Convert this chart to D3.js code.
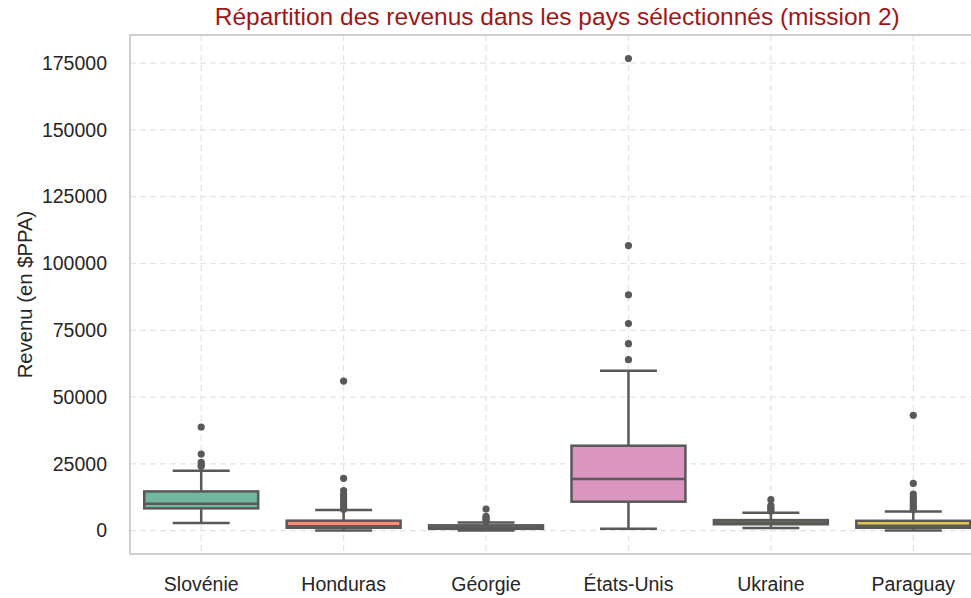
<!DOCTYPE html>
<html>
<head>
<meta charset="utf-8">
<script src="https://cdn.jsdelivr.net/npm/d3@7"></script>
<style>
  html, body { margin: 0; padding: 0; background: #fff; }
  svg { display: block; font-family: "Liberation Sans", Arial, sans-serif; }
</style>
</head>
<body>
<svg id="chart" width="971" height="598"></svg>
<script>
// ---- data (values in $PPA) ----
const countries = ["Slovénie", "Honduras", "Géorgie", "États-Unis", "Ukraine", "Paraguay"];
const lowerWhisker = [2880, 100, 100, 750, 1000, 100];
const q1 = [8350, 1100, 700, 10850, 2400, 1100];
const median = [10100, 1700, 1200, 19350, 3100, 1850];
const q3 = [14700, 3750, 2000, 31800, 3950, 3700];
const upperWhisker = [22460, 7750, 3100, 59900, 6740, 7200];
const outliers = [
  [38800, 28700, 25600, 24700, 24100],
  [56000, 19600, 15000, 13500, 12500, 11500, 10500, 9500, 8600, 8000],
  [8100, 5400, 4700, 4100, 3500],
  [176700, 106700, 88300, 77500, 70000, 64000],
  [11600, 9400, 8700, 8000, 7300],
  [43200, 17700, 13700, 12500, 11500, 10500, 9500, 8600, 7800]
];
const boxColors = ["#71b7a1", "#e99575", "#95a3c3", "#db96c0", "#a2c864", "#e5c849"];
const yTicks = [0, 25000, 50000, 75000, 100000, 125000, 150000, 175000];
const titleText = "Répartition des revenus dans les pays sélectionnés (mission 2)";
const yLabelText = "Revenu (en $PPA)";

// ---- layout ----
const svg = d3.select("#chart");
const plot = { left: 130, right: 984.5, top: 35, bottom: 554 };
const lineGray = "#595959";
const textColor = "#262626";

const x = d3.scaleBand().domain(countries).range([plot.left, plot.right]).paddingInner(0).paddingOuter(0);
const allVals = lowerWhisker.concat(upperWhisker, outliers.flat());
const vMin = d3.min(allVals), vMax = d3.max(allVals);
const margin = (vMax - vMin) * 0.05;
const y = d3.scaleLinear().domain([vMin - margin, vMax + margin]).range([plot.bottom, plot.top]);

// grid
const grid = svg.append("g");
grid.selectAll("line.h").data(yTicks).join("line")
  .attr("x1", plot.left).attr("x2", plot.right)
  .attr("y1", d => y(d)).attr("y2", d => y(d))
  .attr("stroke", "#e3e3e3").attr("stroke-width", 1.2).attr("stroke-dasharray", "6,4");
grid.selectAll("line.v").data(countries).join("line")
  .attr("x1", d => x(d) + x.bandwidth() / 2).attr("x2", d => x(d) + x.bandwidth() / 2)
  .attr("y1", plot.top).attr("y2", plot.bottom)
  .attr("stroke", "#e3e3e3").attr("stroke-width", 1.2).attr("stroke-dasharray", "6,4");

// spines
svg.append("rect")
  .attr("x", plot.left).attr("y", plot.top)
  .attr("width", plot.right - plot.left).attr("height", plot.bottom - plot.top)
  .attr("fill", "none").attr("stroke", "#cfcfcf").attr("stroke-width", 2);

// y axis
const yAxis = d3.axisLeft(y).tickValues(yTicks).tickSize(0).tickPadding(23).tickFormat(d3.format("d"));
const ya = svg.append("g").attr("transform", `translate(${plot.left},0)`).call(yAxis);
ya.select(".domain").remove();
ya.selectAll("text").attr("fill", textColor).style("font-size", "19.5px")
  .style("font-family", "'Liberation Sans', Arial, sans-serif");

// x axis
const xAxis = d3.axisBottom(x).tickSize(0).tickPadding(23);
const xa = svg.append("g").attr("transform", `translate(0,${plot.bottom})`).call(xAxis);
xa.select(".domain").remove();
xa.selectAll("text").attr("fill", textColor).style("font-size", "19.5px")
  .style("font-family", "'Liberation Sans', Arial, sans-serif");

// boxes
const bw = x.bandwidth() * 0.8;
const sw = 2.5;
const boxes = svg.append("g");
countries.forEach((c, i) => {
  const cx = x(c) + x.bandwidth() / 2;
  const g = boxes.append("g");
  // whiskers
  g.append("line").attr("x1", cx).attr("x2", cx).attr("y1", y(q3[i])).attr("y2", y(upperWhisker[i]))
    .attr("stroke", lineGray).attr("stroke-width", sw);
  g.append("line").attr("x1", cx).attr("x2", cx).attr("y1", y(q1[i])).attr("y2", y(lowerWhisker[i]))
    .attr("stroke", lineGray).attr("stroke-width", sw);
  // caps
  [upperWhisker[i], lowerWhisker[i]].forEach(v => {
    g.append("line").attr("x1", cx - bw / 4).attr("x2", cx + bw / 4).attr("y1", y(v)).attr("y2", y(v))
      .attr("stroke", lineGray).attr("stroke-width", sw);
  });
  // box
  g.append("rect").attr("x", cx - bw / 2).attr("width", bw)
    .attr("y", y(q3[i])).attr("height", y(q1[i]) - y(q3[i]))
    .attr("fill", boxColors[i]).attr("stroke", lineGray).attr("stroke-width", sw);
  // median
  g.append("line").attr("x1", cx - bw / 2).attr("x2", cx + bw / 2).attr("y1", y(median[i])).attr("y2", y(median[i]))
    .attr("stroke", lineGray).attr("stroke-width", sw);
  // outliers
  g.selectAll("circle").data(outliers[i]).join("circle")
    .attr("cx", cx).attr("cy", d => y(d)).attr("r", 3.6).attr("fill", lineGray);
});

// title
svg.append("text").attr("x", (plot.left + plot.right) / 2).attr("y", 25)
  .attr("text-anchor", "middle").attr("fill", "#a31515")
  .style("font-size", "24.5px").text(titleText);

// y label
svg.append("text").attr("transform", `translate(32,${(plot.top + plot.bottom) / 2}) rotate(-90)`)
  .attr("text-anchor", "middle").attr("fill", textColor)
  .style("font-size", "20.3px").text(yLabelText);
</script>
</body>
</html>
